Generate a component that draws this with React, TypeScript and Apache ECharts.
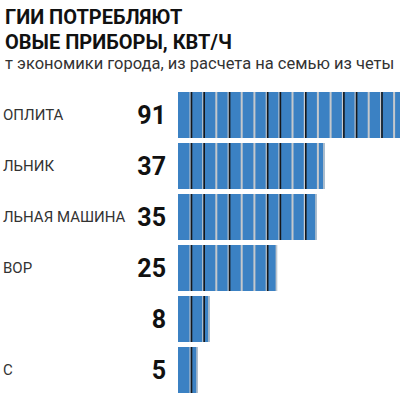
import React, { useEffect, useRef } from "react";
import * as echarts from "echarts";

const titleLines = ["ГИИ ПОТРЕБЛЯЮТ", "ОВЫЕ ПРИБОРЫ, КВТ/Ч"];
const subtitle = "т экономики города, из расчета на семью из четы";
const categories = ["ОПЛИТА", "ЛЬНИК", "ЛЬНАЯ МАШИНА", "ВОР", "", "С"];
const values = [91, 37, 35, 25, 8, 5];
// separator pattern repeating along each bar: B = black, G = grey
const separatorPattern = ["B", "B", "G", "B", "G", "G"];

const BLUE = "#3b81c3";

export default function App() {
  const ref = useRef<HTMLDivElement>(null);
  useEffect(() => {
    if (!ref.current) return;
    const chart = echarts.init(ref.current, null, { renderer: "svg" });
    const step = 12.7;
    chart.setOption({
      animation: false,
      backgroundColor: "#ffffff",
      title: {
        text: titleLines.join("\n"),
        left: 0,
        top: -1,
        itemGap: 1,
        textStyle: {
          fontFamily: "Roboto",
          fontWeight: "bold",
          fontSize: 20,
          lineHeight: 25,
          color: "#111111",
        },
        subtext: subtitle,
        subtextStyle: {
          fontFamily: "Roboto",
          fontSize: 16.5,
          color: "#333333",
        },
      },
      grid: { left: 175, top: 89.5, right: 0, height: 306 },
      xAxis: {
        type: "value",
        min: 0,
        max: 56,
        show: false,
      },
      yAxis: {
        type: "category",
        inverse: true,
        data: categories,
        axisLine: { show: false },
        axisTick: { show: false },
        splitLine: { show: false },
        axisLabel: {
          align: "left",
          margin: 175,
          fontFamily: "Roboto",
          fontSize: 15,
          color: "#333333",
        },
      },
      series: [
        {
          type: "bar",
          data: values,
          barWidth: 46,
          clip: false,
          itemStyle: { color: BLUE },
          label: {
            show: true,
            position: [-12, "50%"],
            align: "right",
            verticalAlign: "middle",
            formatter: "{c}",
            fontFamily: "Roboto",
            fontWeight: "bold",
            fontSize: 25,
            color: "#111111",
          },
          z: 2,
        },
        {
          type: "custom",
          data: values.map((v, i) => [v, i]),
          encode: { x: 0, y: 1 },
          z: 3,
          clip: false,
          silent: true,
          renderItem: (params: any, api: any) => {
            const v = api.value(0);
            const idx = api.value(1);
            const s = api.coord([0, idx]);
            const e = api.coord([v, idx]);
            const h = 46;
            const top = s[1] - h / 2;
            const children: any[] = [];
            let k = 1;
            for (let x = s[0] + step; x < e[0] - 4; x += step, k++) {
              const kind = separatorPattern[(k - 1) % separatorPattern.length];
              if (kind === "B") {
                children.push({
                  type: "rect",
                  shape: { x: x - 1.2, y: top, width: 1.2, height: h },
                  style: { fill: "#c9ccd0" },
                });
                children.push({
                  type: "rect",
                  shape: { x: x, y: top, width: 1.6, height: h },
                  style: { fill: "#15171a" },
                });
              } else {
                children.push({
                  type: "rect",
                  shape: { x: x - 0.8, y: top, width: 2, height: h },
                  style: { fill: "#c4c8cc" },
                });
              }
            }
            children.push({
              type: "rect",
              shape: { x: e[0] - 1.5, y: top, width: 1.5, height: h },
              style: { fill: "#c4c8cc" },
            });
            return { type: "group", children };
          },
        },
      ],
    });
    return () => chart.dispose();
  }, []);
  return (
    <div
      ref={ref}
      style={{ position: "absolute", left: 0, top: 0, width: 400, height: 400 }}
    />
  );
}
